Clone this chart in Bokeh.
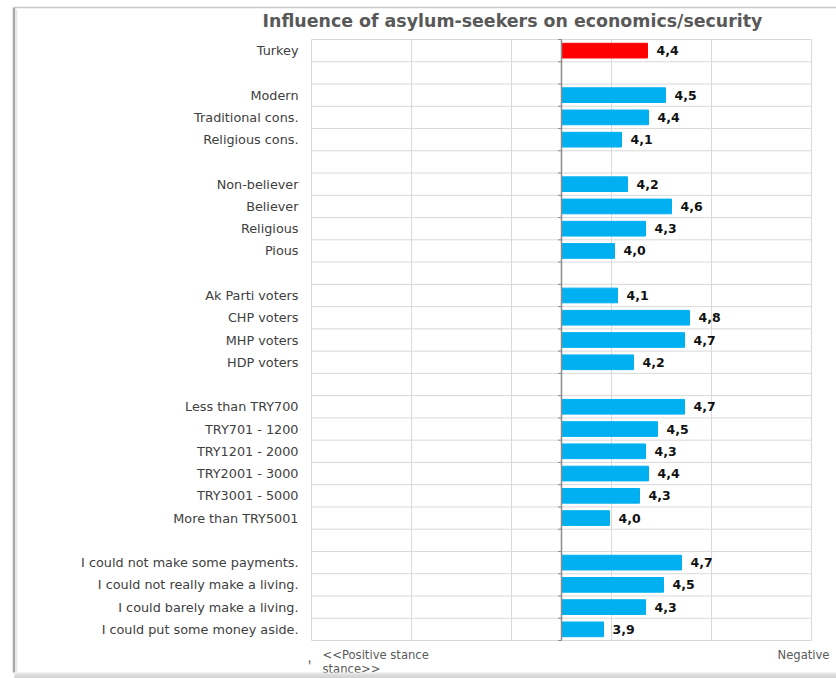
from bokeh.plotting import figure
from bokeh.models import ColumnDataSource, Range1d
from bokeh.core.properties import value
from bokeh.embed import file_html
from bokeh.resources import INLINE

title_text = "Influence of asylum-seekers on economics/security"

turkey_labels = ["Turkey"]
turkey_values = [4.36]

lifestyle_labels = ["Modern", "Traditional cons.", "Religious cons."]
lifestyle_values = [4.54, 4.37, 4.10]

religiosity_labels = ["Non-believer", "Believer", "Religious", "Pious"]
religiosity_values = [4.16, 4.60, 4.34, 4.03]

party_labels = ["Ak Parti voters", "CHP voters", "MHP voters", "HDP voters"]
party_values = [4.06, 4.78, 4.73, 4.22]

income_labels = ["Less than TRY700", "TRY701 - 1200", "TRY1201 - 2000",
                 "TRY2001 - 3000", "TRY3001 - 5000", "More than TRY5001"]
income_values = [4.73, 4.46, 4.34, 4.37, 4.28, 3.98]

economy_labels = ["I could not make some payments.", "I could not really make a living.",
                  "I could barely make a living.", "I could put some money aside."]
economy_values = [4.70, 4.52, 4.34, 3.92]

x_ticks = [1, 2, 3, 4, 5, 6]
midpoint = 3.5
left_caption = "<<Positive stance"
left_caption2 = "stance>>"
right_caption = "Negative"

groups = [(turkey_labels, turkey_values), (lifestyle_labels, lifestyle_values),
          (religiosity_labels, religiosity_values), (party_labels, party_values),
          (income_labels, income_values), (economy_labels, economy_values)]

row_labels = []
bar_rows, bar_vals, bar_colors = [], [], []
for gi, (labs, vals) in enumerate(groups):
    if gi > 0:
        row_labels.append("")
    for lab, v in zip(labs, vals):
        bar_rows.append(len(row_labels))
        bar_vals.append(v)
        bar_colors.append("#ff0000" if gi == 0 else "#00b0f0")
        row_labels.append(lab)
n_rows = len(row_labels)

# ---- layout (pixels) ----
W, H = 836, 678
FL, FR, FT, FB = 311, 811, 39, 640
ppx = (FR - FL) / (x_ticks[-1] - x_ticks[0])
rh = (FB - FT) / n_rows
x0 = x_ticks[0] - FL / ppx
x1 = x_ticks[-1] + (W - FR) / ppx
ytop = -0.5 - FT / rh
ybot = n_rows - 0.5 + (H - FB) / rh

def X(px):
    return x0 + px / ppx

def Y(py):
    return ytop + py / rh

p = figure(width=W, height=H, output_backend="svg", toolbar_location=None,
           x_range=Range1d(x0, x1), y_range=Range1d(ybot, ytop),
           x_axis_location=None, y_axis_location=None, min_border=0)
p.title = None
p.grid.visible = False
p.outline_line_color = None
p.background_fill_color = "white"
p.border_fill_color = "white"

grid_col = "#d9d9d9"
# vertical gridlines
p.segment(x0=x_ticks, x1=x_ticks, y0=[-0.5] * len(x_ticks), y1=[n_rows - 0.5] * len(x_ticks),
          line_color=grid_col, line_width=1)
# horizontal row separators
bounds = [i - 0.5 for i in range(n_rows + 1)]
p.segment(x0=[x_ticks[0]] * len(bounds), x1=[x_ticks[-1]] * len(bounds), y0=bounds, y1=bounds,
          line_color=grid_col, line_width=1)

src = ColumnDataSource(dict(
    y=bar_rows, right=bar_vals, color=bar_colors,
    tx=[v + 0.09 for v in bar_vals],
    txt=[("%.1f" % v).replace(".", ",") for v in bar_vals],
))

p.hbar(y="y", left=midpoint, right="right", height=0.66, color="color", source=src)

# central axis with small ticks
p.segment(x0=[midpoint], x1=[midpoint], y0=[-0.5], y1=[n_rows - 0.5],
          line_color="#8c8c8c", line_width=1.5)
p.segment(x0=[midpoint - 0.035] * len(bounds), x1=[midpoint] * len(bounds), y0=bounds, y1=bounds,
          line_color="#8c8c8c", line_width=1)

p.text(x="tx", y="y", text="txt", source=src, text_font=value("DejaVu Sans"),
       text_font_style="bold", text_font_size="12.5px", text_color="#111111",
       text_baseline="middle", text_align="left")

# category labels
p.text(x=[X(FL - 13)] * n_rows, y=list(range(n_rows)), text=row_labels,
       text_font=value("DejaVu Sans"), text_font_size="12.8px", text_color="#404040",
       text_baseline="middle", text_align="right")

# title
p.text(x=[X(512)], y=[Y(20)], text=[title_text], text_font=value("DejaVu Sans"),
       text_font_style="bold", text_font_size="17.4px", text_color="#595959",
       text_baseline="middle", text_align="center")

# bottom captions
cap_font = dict(text_font=value("DejaVu Sans"), text_font_size="11.6px", text_color="#595959",
                text_baseline="middle")
p.text(x=[X(322)], y=[Y(654)], text=[left_caption], text_align="left", **cap_font)
p.text(x=[X(322)], y=[Y(668)], text=[left_caption2], text_align="left", **cap_font)
p.text(x=[X(829)], y=[Y(654)], text=[right_caption], text_align="right", **cap_font)
p.text(x=[X(309), X(309)], y=[Y(657), Y(665)], text=[".", "'"], text_align="center",
       **cap_font)

# outer frame with shadow
p.segment(x0=[X(13.5)], x1=[X(13.5)], y0=[Y(7)], y1=[Y(672)], line_color="#a8a8a8", line_width=2.5)
p.segment(x0=[X(16)], x1=[X(16)], y0=[Y(9)], y1=[Y(671)], line_color="#e6e6e6", line_width=1.5)
p.segment(x0=[X(13)], x1=[X(W)], y0=[Y(7)], y1=[Y(7)], line_color="#c8c8c8", line_width=1.5)
shade = ["#e8e8e8", "#dcdcdc", "#d2d2d2", "#cccccc", "#c8c8c8", "#c6c6c6"]
p.quad(left=[X(14)] * 6, right=[X(W)] * 6, top=[Y(672 + i) for i in range(6)],
       bottom=[Y(673 + i) for i in range(6)], fill_color=shade, line_color=None)

open("out.html", "w").write(file_html(p, INLINE))
